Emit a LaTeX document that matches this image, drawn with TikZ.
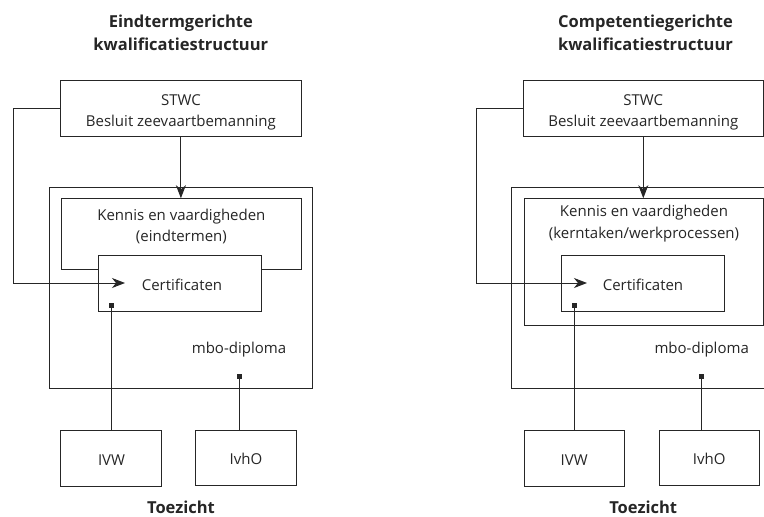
\documentclass[tikz,border=0pt]{standalone}
\usepackage{fontspec}
\setmainfont{Open Sans}
\usetikzlibrary{arrows.meta}
\begin{document}
\begin{tikzpicture}[x=1pt,y=-1pt,
  box/.style={draw=black!85, line width=1pt, fill=white, inner sep=0pt},
  txt/.style={text=black!85, font=\fontsize{15}{21.5}\selectfont, inner sep=0pt, anchor=base, align=center},
  ttl/.style={text=black!85, font=\bfseries\fontsize{16.5}{23}\selectfont, inner sep=0pt, anchor=base, align=center},
  conn/.style={draw=black!85, line width=1pt},
  arr/.style={conn, -{Stealth[length=13pt,width=10pt,inset=4pt]}},
  sq/.style={fill=black!85, minimum size=5pt, inner sep=0pt}
]
\clip (0,0) rectangle (764,517);
\fill[white] (0,0) rectangle (764,517);

% ---------- left panel ----------
\node[ttl] (tL) at (180.8,50) {Eindtermgerichte\\kwalificatiestructuur};
\node[box, minimum width=240.3pt, minimum height=56pt] (stwcL) at (180.9,108) {};
\node[txt] (stwcLt) at (180.9,126.7) {STWC\\Besluit zeevaartbemanning};
\node[box, minimum width=263pt, minimum height=200.6pt] (mboL) at (180.5,288) {};
\node[box, minimum width=240.7pt, minimum height=70.6pt] (kenL) at (181.35,234) {};
\node[txt] (kenLt) at (181.4,241.5) {Kennis en vaardigheden\\(eindtermen)};
\node[box, minimum width=163.4pt, minimum height=55.3pt] (certL) at (180,283.35) {};
\node[txt] (certLt) at (182,290) {Certificaten};
\node[txt] (mboLt) at (239,353.3) {mbo-diploma};
\node[box, minimum width=100.7pt, minimum height=56pt] (ivwL) at (111.3,458) {};
\node[txt] (ivwLt) at (111.5,465) {IVW};
\node[box, minimum width=100.6pt, minimum height=55pt] (ivhoL) at (246,457.5) {};
\node[txt] (ivhoLt) at (246,464.3) {IvhO};
\node[ttl] (tzL) at (181,513.5) {Toezicht};

\coordinate (tipL) at (125,283);
\coordinate (cornerL) at (13.3,108);
\draw[arr] (stwcL.south) -- (stwcL.south |- kenL.north);
\draw[arr] (stwcL.west) -- (cornerL) |- (tipL);
\node[sq] (sq1) at (111.7,305) {};
\node[sq] (sq2) at (239,376) {};
\draw[conn] (sq1.center) -- (sq1.center |- ivwL.north);
\draw[conn] (sq2.center) -- (sq2.center |- ivhoL.north);

% ---------- right panel ----------
\node[ttl] (tR) at (645.5,50) {Competentiegerichte\\kwalificatiestructuur};
\node[box, minimum width=240pt, minimum height=56pt] (stwcR) at (643.3,108) {};
\node[txt] (stwcRt) at (643.3,126.7) {STWC\\Besluit zeevaartbemanning};
\node[box, minimum width=279pt, minimum height=200.6pt] (mboR) at (650.5,288) {};
\node[box, minimum width=239.3pt, minimum height=126.3pt] (kenR) at (643.65,261.85) {};
\node[txt] (kenRt) at (644,238.3) {Kennis en vaardigheden\\(kerntaken/werkprocessen)};
\node[box, minimum width=162.6pt, minimum height=55.3pt] (certR) at (643,283.35) {};
\node[txt] (certRt) at (643,290) {Certificaten};
\node[txt] (mboRt) at (701.7,353.3) {mbo-diploma};
\node[box, minimum width=100.3pt, minimum height=56pt] (ivwR) at (574.2,458) {};
\node[txt] (ivwRt) at (574.2,465) {IVW};
\node[box, minimum width=100.3pt, minimum height=55pt] (ivhoR) at (709.2,457.5) {};
\node[txt] (ivhoRt) at (709.2,464.3) {IvhO};
\node[ttl] (tzR) at (643.2,513.5) {Toezicht};

\coordinate (tipR) at (587,283);
\coordinate (cornerR) at (476,108);
\draw[arr] (stwcR.south) -- (stwcR.south |- kenR.north);
\draw[arr] (stwcR.west) -- (cornerR) |- (tipR);
\node[sq] (sq3) at (574,305) {};
\node[sq] (sq4) at (701.7,376) {};
\draw[conn] (sq3.center) -- (sq3.center |- ivwR.north);
\draw[conn] (sq4.center) -- (sq4.center |- ivhoR.north);
\end{tikzpicture}
\end{document}
